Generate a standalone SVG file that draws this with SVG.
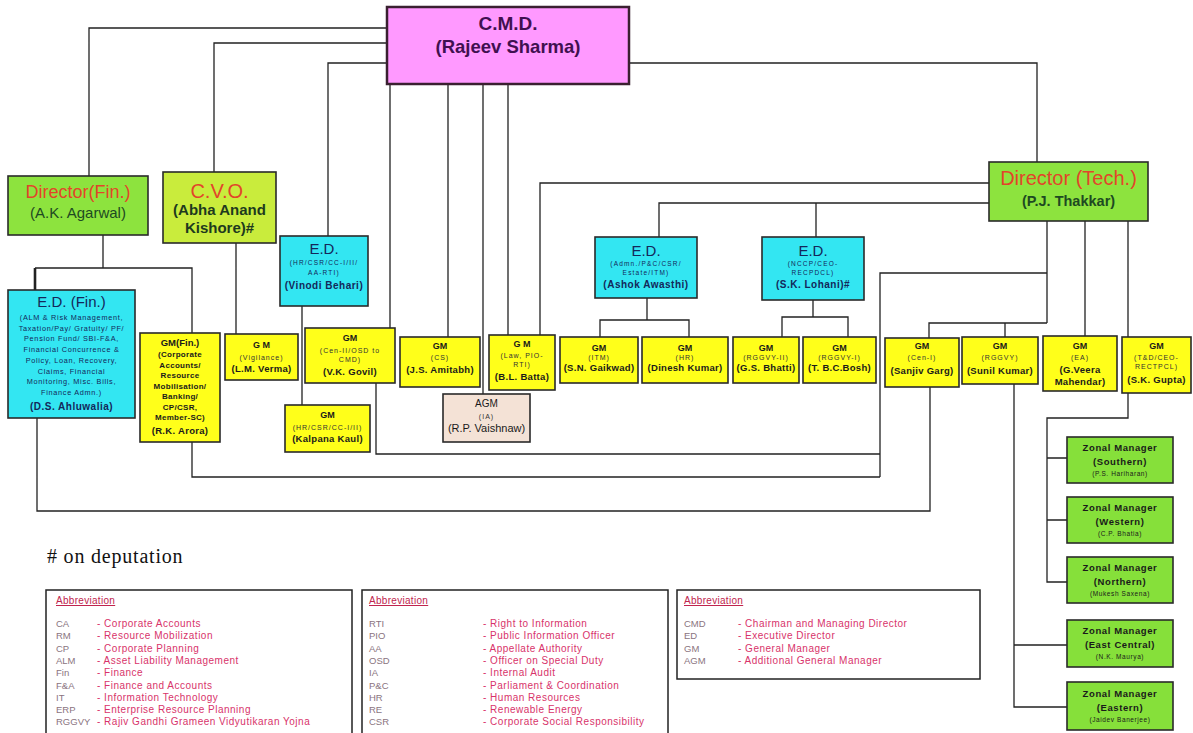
<svg xmlns="http://www.w3.org/2000/svg" width="1193" height="733" viewBox="0 0 1193 733">
<style>
text{font-family:"Liberation Sans",Arial,sans-serif;text-anchor:middle;fill:#1a1a1a}
.box{stroke:#2a2a2a;stroke-width:1.6}
.cmdb{fill:#FF99FF;stroke:#3a2030;stroke-width:2.5}
.dir{fill:#8DE33E}
.cvo{fill:#C9EC3C}
.ed{fill:#33E6F2}
.gm{fill:#FFFF1A}
.agm{fill:#F4E2D6}
.zm{fill:#86E03A}
.ln{fill:none;stroke:#222;stroke-width:1.3}
.red{fill:#E2452A;font-size:19px}
.dn{fill:#1E4A22;font-size:15px}
.edt{fill:#14285A;font-size:15px}
.es{fill:#14285A;font-size:6.5px;letter-spacing:1.2px}
.en{fill:#14285A;font-size:10px;font-weight:bold;letter-spacing:.5px}
.eb{fill:#14285A;font-size:7.3px;letter-spacing:.7px}
.t{font-size:9px;font-weight:bold}
.s{font-size:7px;letter-spacing:1px;fill:#333}
.n{font-size:9.5px;font-weight:bold;letter-spacing:.3px}
.fb{font-size:8px;font-weight:bold;letter-spacing:.3px}
.zt{font-size:9.5px;font-weight:bold;letter-spacing:.6px}
.zs{font-size:6.5px;letter-spacing:.6px}
.ab{fill:#C0244E;font-size:10px;text-anchor:start;text-decoration:underline;letter-spacing:.3px}
.ac{fill:#8a7480;font-size:9.5px;text-anchor:start}
.ad{fill:#D8336A;font-size:10px;text-anchor:start;letter-spacing:.5px}
.abox{fill:#fff;stroke:#222;stroke-width:1.5}
</style>

<g id="connectors">
<path class="ln" d="M387 28H89V176M387 43H214V172M387 63H328V236M629 63H1037V162"/>
<path class="ln" d="M390 84V328M448 84V337M483 84V394M508 84V335"/>
<path class="ln" d="M989 183H540V335M989 203H659V237M816 203V237"/>
<path class="ln" d="M103 235V268M35 268H192V333M236 243V334M302 306V405"/>
<path class="ln" d="M35 268V290" style="stroke-width:2.6"/>
<path class="ln" d="M647 298V320M600 337V320H689V337M813 300V317M782 337V317H848V337"/>
<path class="ln" d="M1047 221V323M929 338V323H1047M1005 323V337M880 477V273H1047M1085 221V336M1128 221V337"/>
<path class="ln" d="M376 383V454H880M192 442V477H880M37 418V511H930V387"/>
<path class="ln" d="M1014 384V707H1067M1014 645H1067M1128 393V418H1047V582H1067M1047 458H1067M1047 520H1067"/>
</g>

<g id="cmd">
<rect class="cmdb" x="387" y="7" width="242" height="77"/>
<text x="508" y="30" style="font-size:19px;font-weight:bold;fill:#401050">C.M.D.</text>
<text x="508" y="53" style="font-size:18.5px;font-weight:bold;fill:#401050">(Rajeev Sharma)</text>
</g>

<g id="dir-fin">
<rect class="box dir" x="8" y="176" width="140" height="59"/>
<text class="red" x="78" y="198" style="font-size:18px">Director(Fin.)</text>
<text class="dn" x="78" y="218">(A.K. Agarwal)</text>
</g>

<g id="cvo">
<rect class="box cvo" x="163" y="172" width="113" height="71"/>
<text class="red" x="219.5" y="198" style="font-size:20px">C.V.O.</text>
<text x="219.5" y="215" style="font-size:15px;font-weight:bold;fill:#1E3A1E">(Abha Anand</text>
<text x="219.5" y="233" style="font-size:15px;font-weight:bold;fill:#1E3A1E">Kishore)#</text>
</g>

<g id="dir-tech">
<rect class="box dir" x="989" y="162" width="159" height="59"/>
<text class="red" x="1068.5" y="185" style="font-size:20px">Director (Tech.)</text>
<text x="1068.5" y="206" style="font-size:14.5px;font-weight:bold;fill:#1E4A22">(P.J. Thakkar)</text>
</g>

<g id="ed-fin">
<rect class="box ed" x="8" y="290" width="127" height="128"/>
<text class="edt" x="71.5" y="307">E.D. (Fin.)</text>
<text class="eb" x="71.5" y="320">(ALM &amp; Risk Management,</text>
<text class="eb" x="71.5" y="330.7">Taxation/Pay/ Gratuity/ PF/</text>
<text class="eb" x="71.5" y="341.4">Pension Fund/ SBI-F&amp;A,</text>
<text class="eb" x="71.5" y="352.1">Financial Concurrence &amp;</text>
<text class="eb" x="71.5" y="362.8">Policy, Loan, Recovery,</text>
<text class="eb" x="71.5" y="373.5">Claims, Financial</text>
<text class="eb" x="71.5" y="384.2">Monitoring, Misc. Bills,</text>
<text class="eb" x="71.5" y="394.9">Finance Admn.)</text>
<text class="en" x="71.5" y="410">(D.S. Ahluwalia)</text>
</g>

<g id="ed-vinodi">
<rect class="box ed" x="280" y="236" width="88" height="70"/>
<text class="edt" x="324" y="254">E.D.</text>
<text class="es" x="324" y="265">(HR/CSR/CC-I/II/</text>
<text class="es" x="324" y="275">AA-RTI)</text>
<text class="en" x="324" y="289">(Vinodi Behari)</text>
</g>

<g id="ed-ashok">
<rect class="box ed" x="595" y="237" width="102" height="61"/>
<text class="edt" x="646" y="256">E.D.</text>
<text class="es" x="646" y="266">(Admn./P&amp;C/CSR/</text>
<text class="es" x="646" y="275">Estate/ITM)</text>
<text class="en" x="646" y="288">(Ashok Awasthi)</text>
</g>

<g id="ed-lohani">
<rect class="box ed" x="762" y="237" width="102" height="63"/>
<text class="edt" x="813" y="256">E.D.</text>
<text class="es" x="813" y="266">(NCCP/CEO-</text>
<text class="es" x="813" y="275">RECPDCL)</text>
<text class="en" x="813" y="288">(S.K. Lohani)#</text>
</g>

<g id="gm-fin">
<rect class="box gm" x="140" y="333" width="80" height="109"/>
<text class="t" x="180" y="346" style="font-size:9.5px">GM(Fin.)</text>
<text class="fb" x="180" y="357">(Corporate</text>
<text class="fb" x="180" y="367.5">Accounts/</text>
<text class="fb" x="180" y="378">Resource</text>
<text class="fb" x="180" y="388.5">Mobilisation/</text>
<text class="fb" x="180" y="399">Banking/</text>
<text class="fb" x="180" y="409.5">CP/CSR,</text>
<text class="fb" x="180" y="420">Member-SC)</text>
<text class="n" x="180" y="434">(R.K. Arora)</text>
</g>

<g id="gm-vigilance">
<rect class="box gm" x="225" y="334" width="73" height="46"/>
<text class="t" x="261.5" y="348">G M</text>
<text class="s" x="261.5" y="360">(Vigilance)</text>
<text class="n" x="261.5" y="372">(L.M. Verma)</text>
</g>

<g id="gm-govil">
<rect class="box gm" x="305" y="328" width="90" height="55"/>
<text class="t" x="350" y="341">GM</text>
<text class="s" x="350" y="353">(Cen-II/OSD to</text>
<text class="s" x="350" y="362">CMD)</text>
<text class="n" x="350" y="375">(V.K. Govil)</text>
</g>

<g id="gm-kalpana">
<rect class="box gm" x="285" y="405" width="85" height="47"/>
<text class="t" x="327.5" y="418">GM</text>
<text class="s" x="327.5" y="430">(HR/CSR/CC-I/II)</text>
<text class="n" x="327.5" y="442">(Kalpana Kaul)</text>
</g>

<g id="gm-amitabh">
<rect class="box gm" x="400" y="337" width="80" height="50"/>
<text class="t" x="440" y="349">GM</text>
<text class="s" x="440" y="360">(CS)</text>
<text class="n" x="440" y="373">(J.S. Amitabh)</text>
</g>

<g id="agm-vaishnaw">
<rect class="box agm" x="443" y="394" width="87" height="48"/>
<text x="486.5" y="407" style="font-size:10px">AGM</text>
<text class="s" x="486.5" y="419">(IA)</text>
<text x="486.5" y="432" style="font-size:11px">(R.P. Vaishnaw)</text>
</g>

<g id="gm-batta">
<rect class="box gm" x="489" y="335" width="66" height="55"/>
<text class="t" x="522" y="347">G M</text>
<text class="s" x="522" y="358">(Law, PIO-</text>
<text class="s" x="522" y="367">RTI)</text>
<text class="n" x="522" y="380">(B.L. Batta)</text>
</g>

<g id="gm-gaikwad">
<rect class="box gm" x="560" y="337" width="78" height="46"/>
<text class="t" x="599" y="351">GM</text>
<text class="s" x="599" y="360">(ITM)</text>
<text class="n" x="599" y="371">(S.N. Gaikwad)</text>
</g>

<g id="gm-dinesh">
<rect class="box gm" x="642" y="337" width="86" height="46"/>
<text class="t" x="685" y="351">GM</text>
<text class="s" x="685" y="360">(HR)</text>
<text class="n" x="685" y="371">(Dinesh Kumar)</text>
</g>

<g id="gm-bhatti">
<rect class="box gm" x="733" y="337" width="66" height="46"/>
<text class="t" x="766" y="351">GM</text>
<text class="s" x="766" y="360">(RGGVY-II)</text>
<text class="n" x="766" y="371">(G.S. Bhatti)</text>
</g>

<g id="gm-bosh">
<rect class="box gm" x="803" y="337" width="73" height="46"/>
<text class="t" x="839.5" y="351">GM</text>
<text class="s" x="839.5" y="360">(RGGVY-I)</text>
<text class="n" x="839.5" y="371">(T. B.C.Bosh)</text>
</g>

<g id="gm-garg">
<rect class="box gm" x="885" y="338" width="74" height="49"/>
<text class="t" x="922" y="349">GM</text>
<text class="s" x="922" y="360">(Cen-I)</text>
<text class="n" x="922" y="374">(Sanjiv Garg)</text>
</g>

<g id="gm-sunil">
<rect class="box gm" x="962" y="337" width="76" height="47"/>
<text class="t" x="1000" y="349">GM</text>
<text class="s" x="1000" y="360">(RGGVY)</text>
<text class="n" x="1000" y="374">(Sunil Kumar)</text>
</g>

<g id="gm-mahendar">
<rect class="box gm" x="1043" y="336" width="74" height="55"/>
<text class="t" x="1080" y="349">GM</text>
<text class="s" x="1080" y="360">(EA)</text>
<text class="n" x="1080" y="373">(G.Veera</text>
<text class="n" x="1080" y="385">Mahendar)</text>
</g>

<g id="gm-gupta">
<rect class="box gm" x="1122" y="337" width="69" height="56"/>
<text class="t" x="1156.5" y="349">GM</text>
<text class="s" x="1156.5" y="360">(T&amp;D/CEO-</text>
<text class="s" x="1156.5" y="369">RECTPCL)</text>
<text class="n" x="1156.5" y="383">(S.K. Gupta)</text>
</g>

<g id="zm-southern">
<rect class="box zm" x="1067" y="437" width="106" height="46"/>
<text class="zt" x="1120" y="451">Zonal Manager</text>
<text class="zt" x="1120" y="465">(Southern)</text>
<text class="zs" x="1120" y="476">(P.S. Hariharan)</text>
</g>
<g id="zm-western">
<rect class="box zm" x="1067" y="497" width="106" height="46"/>
<text class="zt" x="1120" y="511">Zonal Manager</text>
<text class="zt" x="1120" y="525">(Western)</text>
<text class="zs" x="1120" y="536">(C.P. Bhatia)</text>
</g>
<g id="zm-northern">
<rect class="box zm" x="1067" y="557" width="106" height="46"/>
<text class="zt" x="1120" y="571">Zonal Manager</text>
<text class="zt" x="1120" y="585">(Northern)</text>
<text class="zs" x="1120" y="596">(Mukesh Saxena)</text>
</g>
<g id="zm-eastcentral">
<rect class="box zm" x="1067" y="620" width="106" height="47"/>
<text class="zt" x="1120" y="634">Zonal Manager</text>
<text class="zt" x="1120" y="648">(East Central)</text>
<text class="zs" x="1120" y="659">(N.K. Maurya)</text>
</g>
<g id="zm-eastern">
<rect class="box zm" x="1067" y="682" width="106" height="48"/>
<text class="zt" x="1120" y="697">Zonal Manager</text>
<text class="zt" x="1120" y="711">(Eastern)</text>
<text class="zs" x="1120" y="722">(Jaidev Banerjee)</text>
</g>

<g id="note">
<text x="47" y="563" style="font-family:'Liberation Serif','Times New Roman',serif;font-size:20px;text-anchor:start;fill:#111;letter-spacing:.8px">#  on deputation</text>
</g>

<g id="abbr-1">
<rect class="abox" x="46" y="590" width="306" height="150"/>
<text class="ab" x="56" y="604">Abbreviation</text>
<text class="ac" x="56" y="627">CA</text><text class="ad" x="97" y="627">- Corporate Accounts</text>
<text class="ac" x="56" y="639.3">RM</text><text class="ad" x="97" y="639.3">- Resource Mobilization</text>
<text class="ac" x="56" y="651.6">CP</text><text class="ad" x="97" y="651.6">- Corporate Planning</text>
<text class="ac" x="56" y="663.9">ALM</text><text class="ad" x="97" y="663.9">- Asset Liability Management</text>
<text class="ac" x="56" y="676.2">Fin</text><text class="ad" x="97" y="676.2">- Finance</text>
<text class="ac" x="56" y="688.5">F&amp;A</text><text class="ad" x="97" y="688.5">- Finance and Accounts</text>
<text class="ac" x="56" y="700.8">IT</text><text class="ad" x="97" y="700.8">- Information Technology</text>
<text class="ac" x="56" y="713.1">ERP</text><text class="ad" x="97" y="713.1">- Enterprise Resource Planning</text>
<text class="ac" x="56" y="725.4">RGGVY</text><text class="ad" x="97" y="725.4">- Rajiv Gandhi Grameen Vidyutikaran Yojna</text>
</g>

<g id="abbr-2">
<rect class="abox" x="362" y="590" width="306" height="150"/>
<text class="ab" x="369" y="604">Abbreviation</text>
<text class="ac" x="369" y="627">RTI</text><text class="ad" x="483" y="627">- Right to Information</text>
<text class="ac" x="369" y="639.3">PIO</text><text class="ad" x="483" y="639.3">- Public Information Officer</text>
<text class="ac" x="369" y="651.6">AA</text><text class="ad" x="483" y="651.6">- Appellate Authority</text>
<text class="ac" x="369" y="663.9">OSD</text><text class="ad" x="483" y="663.9">- Officer on Special Duty</text>
<text class="ac" x="369" y="676.2">IA</text><text class="ad" x="483" y="676.2">- Internal Audit</text>
<text class="ac" x="369" y="688.5">P&amp;C</text><text class="ad" x="483" y="688.5">- Parliament &amp; Coordination</text>
<text class="ac" x="369" y="700.8">HR</text><text class="ad" x="483" y="700.8">- Human Resources</text>
<text class="ac" x="369" y="713.1">RE</text><text class="ad" x="483" y="713.1">- Renewable Energy</text>
<text class="ac" x="369" y="725.4">CSR</text><text class="ad" x="483" y="725.4">- Corporate Social Responsibility</text>
</g>

<g id="abbr-3">
<rect class="abox" x="677" y="590" width="303" height="89"/>
<text class="ab" x="684" y="604">Abbreviation</text>
<text class="ac" x="684" y="627">CMD</text><text class="ad" x="738" y="627">- Chairman and Managing Director</text>
<text class="ac" x="684" y="639.3">ED</text><text class="ad" x="738" y="639.3">- Executive Director</text>
<text class="ac" x="684" y="651.6">GM</text><text class="ad" x="738" y="651.6">- General Manager</text>
<text class="ac" x="684" y="663.9">AGM</text><text class="ad" x="738" y="663.9">- Additional General Manager</text>
</g>
</svg>
